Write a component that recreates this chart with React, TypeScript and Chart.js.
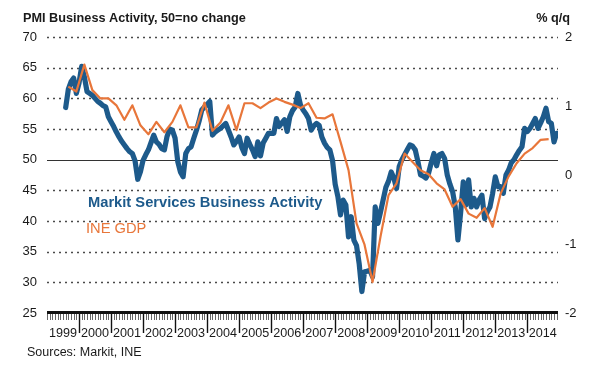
import React, { useEffect, useRef } from "react";
import { Chart, registerables } from "chart.js";

Chart.register(...registerables);

// Month index 0 = Jan 1999
const pmiStartMonth = 7; // Aug 1999
const pmiValues: number[] = [
  // 1999 (Aug-Dec)
  58.5, 61.5, 62.7, 63.3, 60.8,
  // 2000
  62.5, 65.2, 63.5, 61.1, 60.8, 60.5, 60.0, 59.5, 59.2, 58.8, 58.6, 57.0,
  // 2001
  56.2, 55.4, 54.5, 53.7, 53.0, 52.4, 51.8, 51.3, 51.0, 49.8, 46.8, 48.0,
  // 2002
  49.9, 50.8, 51.6, 52.8, 54.0, 52.9, 52.5, 51.8, 51.6, 53.8, 55.0, 54.8,
  // 2003
  53.5, 49.7, 48.0, 47.2, 51.0, 51.8, 52.1, 53.5, 54.8, 56.3, 58.1, 58.6,
  // 2004
  59.0, 59.5, 54.0, 54.5, 54.8, 55.1, 55.5, 55.9, 54.8, 53.7, 52.4, 53.0,
  // 2005
  53.7, 52.0, 51.0, 53.5, 52.5, 51.6, 50.5, 52.9, 50.6, 52.7, 53.5, 54.3,
  // 2006
  54.3, 54.3, 56.7, 55.4, 56.0, 56.5, 54.6, 57.0, 58.0, 58.6, 60.8, 58.9,
  // 2007
  58.1, 57.5, 56.7, 54.8, 55.5, 55.9, 55.6, 53.7, 52.7, 52.0, 51.6, 49.9,
  // 2008
  46.0, 44.0, 41.0, 43.4, 42.6, 37.4, 40.7, 36.9, 36.0, 33.0, 28.5, 31.7,
  // 2009
  31.8, 32.0, 30.9, 42.3, 39.6, 41.5, 43.5, 45.5, 46.5, 48.0, 47.0, 45.3,
  // 2010
  48.9, 50.0, 50.8, 51.6, 52.4, 52.2, 51.6, 49.7, 47.5, 47.3, 47.0, 47.8,
  // 2011
  49.5, 51.0, 49.0, 50.8, 51.0, 50.2, 47.5, 46.0, 44.8, 42.3, 36.9, 41.3,
  // 2012
  46.4, 42.6, 46.7, 42.3, 43.7, 42.3, 43.5, 44.2, 40.4, 41.5, 42.3, 44.5,
  // 2013
  47.2, 45.6, 45.6, 44.5, 47.5, 48.3, 49.5, 50.0, 50.8, 51.5, 52.1, 55.1,
  // 2014
  54.6, 55.1, 55.9, 56.7, 55.1, 56.0, 57.0, 58.4, 56.2, 55.9, 52.9, 54.3,
];

const gdpStartMonth = 8; // Sep 1999, quarterly
const gdpStep = 3;
const gdpValues: number[] = [
  1.28, 1.21,
  1.6, 1.23, 1.11, 1.11,
  1.01, 0.8, 1.01, 0.72,
  0.59, 0.77, 0.62, 0.77,
  1.01, 0.69, 0.69, 1.05,
  0.64, 0.76, 1.01, 0.65,
  1.04, 1.04, 0.97, 1.05,
  1.11, 1.06, 1.02, 0.97,
  1.04, 0.83, 0.82, 0.88,
  0.48, 0.07, -0.7, -1.01,
  -1.55, -0.89, -0.29, -0.12,
  0.31, 0.19, 0.07, 0.01,
  -0.12, -0.21, -0.46, -0.35,
  -0.56, -0.62, -0.48, -0.75,
  -0.27, -0.02, 0.17, 0.31,
  0.39, 0.51, 0.52,
];

const yearLabels: string[] = [
  "1999", "2000", "2001", "2002", "2003", "2004", "2005", "2006",
  "2007", "2008", "2009", "2010", "2011", "2012", "2013", "2014",
];

const xMaxMonth = 191.5;

const FONT = '"Liberation Sans", Arial, sans-serif';
const BLUE = "#1d5a8b";
const ORANGE = "#e8763a";

const decorPlugin = {
  id: "decor",
  beforeDatasetsDraw(chart: any) {
    const { ctx, chartArea: a, scales } = chart;
    const y = scales.y;
    ctx.save();
    for (const t of y.ticks) {
      const v = t.value;
      if (v <= 25) continue;
      const py = Math.round(y.getPixelForValue(v)) + 0.5;
      ctx.beginPath();
      if (v === 50) {
        ctx.setLineDash([]);
        ctx.strokeStyle = "#333";
        ctx.lineWidth = 1;
      } else {
        ctx.setLineDash([2, 4]);
        ctx.strokeStyle = "#4a4a4a";
        ctx.lineWidth = 1.6;
      }
      ctx.moveTo(a.left, py);
      ctx.lineTo(a.right, py);
      ctx.stroke();
    }
    ctx.restore();
  },
  afterDraw(chart: any) {
    const { ctx, chartArea: a, scales } = chart;
    const x = scales.x;
    const y = scales.y;
    ctx.save();
    const axisY = y.getPixelForValue(25);
    // month ticks
    for (let m = 0; m <= Math.floor(xMaxMonth); m++) {
      const px = Math.round(x.getPixelForValue(m)) + 0.5;
      const major = m % 12 === 0 && m > 0;
      ctx.beginPath();
      ctx.strokeStyle = major ? "#111" : "#555";
      ctx.lineWidth = major ? 1.4 : 0.9;
      ctx.moveTo(px, axisY);
      ctx.lineTo(px, axisY + (major ? 20 : 7));
      ctx.stroke();
    }
    // axis line
    ctx.beginPath();
    ctx.lineWidth = 3;
    ctx.strokeStyle = "#111";
    ctx.moveTo(a.left, axisY - 0.5);
    ctx.lineTo(a.right, axisY - 0.5);
    ctx.stroke();
    // year labels
    ctx.fillStyle = "#1a1a1a";
    ctx.font = `12.6px ${FONT}`;
    ctx.textAlign = "center";
    ctx.textBaseline = "alphabetic";
    yearLabels.forEach((lab, i) => {
      const s = i * 12;
      const e = Math.min(s + 12, xMaxMonth);
      const cx = (x.getPixelForValue(s) + x.getPixelForValue(e)) / 2;
      ctx.fillText(lab, cx, axisY + 24);
    });
    // titles
    ctx.textAlign = "left";
    ctx.font = `bold 12.7px ${FONT}`;
    ctx.fillStyle = "#1a1a1a";
    ctx.fillText("PMI Business Activity, 50=no change", 23, 22);
    ctx.textAlign = "right";
    ctx.fillText("% q/q", 570, 22);
    // sources
    ctx.textAlign = "left";
    ctx.font = `12.5px ${FONT}`;
    ctx.fillText("Sources: Markit, INE", 27, 356);
    // legend
    ctx.font = `bold 14.7px ${FONT}`;
    ctx.fillStyle = BLUE;
    ctx.fillText("Markit Services Business Activity", 88, 207);
    ctx.font = `14.7px ${FONT}`;
    ctx.fillStyle = ORANGE;
    ctx.fillText("INE GDP", 86, 233);
    ctx.restore();
  },
};

export default function App() {
  const ref = useRef<HTMLCanvasElement | null>(null);
  useEffect(() => {
    document.body.style.margin = "0";
    const canvas = ref.current;
    if (!canvas) return;
    const pmiData = pmiValues.map((v, i) => ({ x: pmiStartMonth + i, y: v }));
    const gdpData = gdpValues.map((v, i) => ({ x: gdpStartMonth + gdpStep * i, y: v }));
    const chart = new Chart(canvas, {
      type: "line",
      data: {
        datasets: [
          {
            label: "INE GDP",
            data: gdpData,
            yAxisID: "y1",
            borderColor: ORANGE,
            borderWidth: 2.2,
            pointRadius: 0,
            tension: 0,
            fill: false,
            order: 1,
            borderJoinStyle: "round",
          },
          {
            label: "Markit Services Business Activity",
            data: pmiData,
            yAxisID: "y",
            borderColor: BLUE,
            borderWidth: 5.2,
            pointRadius: 0,
            tension: 0,
            fill: false,
            order: 2,
            borderJoinStyle: "round",
            borderCapStyle: "round",
          },
        ],
      },
      options: {
        responsive: false,
        animation: false,
        devicePixelRatio: 1,
        layout: { padding: { top: 37, bottom: 52, left: 0, right: 0 } },
        plugins: {
          legend: { display: false },
          tooltip: { enabled: false },
          title: { display: false },
        },
        scales: {
          x: {
            type: "linear",
            min: 0,
            max: xMaxMonth,
            display: false,
          },
          y: {
            position: "left",
            min: 25,
            max: 70,
            ticks: {
              stepSize: 5,
              padding: 10,
              color: "#1a1a1a",
              font: { family: FONT, size: 13 },
            },
            grid: { display: false, drawTicks: false },
            border: { display: false },
            afterFit: (s: any) => {
              s.width = 47;
            },
          },
          y1: {
            position: "right",
            min: -2,
            max: 2,
            ticks: {
              stepSize: 1,
              padding: 7,
              color: "#1a1a1a",
              font: { family: FONT, size: 13 },
            },
            grid: { display: false, drawTicks: false },
            border: { display: false },
            afterFit: (s: any) => {
              s.width = 33;
            },
          },
        },
      },
      plugins: [decorPlugin],
    } as any);
    return () => chart.destroy();
  }, []);
  return (
    <div style={{ width: 591, height: 365 }}>
      <canvas ref={ref} width={591} height={365} style={{ display: "block" }} />
    </div>
  );
}
